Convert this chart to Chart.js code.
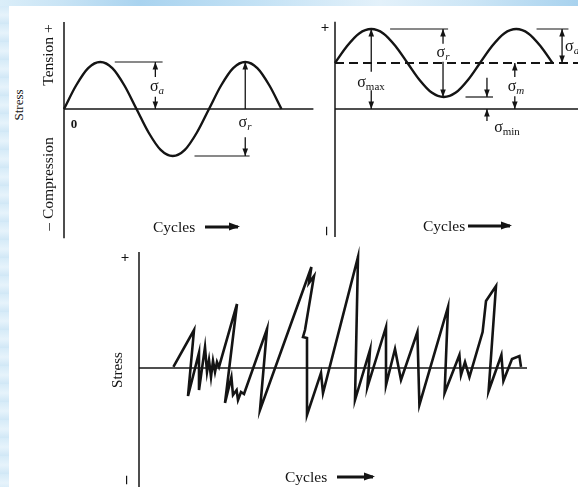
<!DOCTYPE html>
<html>
<head>
<meta charset="utf-8">
<script src="https://cdn.jsdelivr.net/npm/chart.js@4/dist/chart.umd.min.js"></script>
<style>
  html, body { margin: 0; padding: 0; }
  body {
    width: 578px; height: 487px; position: relative; overflow: hidden;
    background: linear-gradient(90deg, #dbeef9 0px, #c9e4f5 60px, #a9d3ef 140px, #c4e2f5 260px, #e3f1fa 380px, #cde6f6 470px, #a8d2ee 578px);
    font-family: "Liberation Serif", "DejaVu Serif", serif; color: #141414;
  }
  #sheet { position: absolute; left: 9px; top: 6px; right: 0; bottom: 0; background: #fff; }
  #edge { position: absolute; left: 0; top: 6px; width: 9px; bottom: 0;
    background: repeating-linear-gradient(180deg, #d6ebf8 0px, #e6f3fb 9px, #d0e7f6 18px); }
  canvas { position: absolute; }
  .t { position: absolute; white-space: nowrap; line-height: 1; transform: translate(-50%, -50%); }
  .l { position: absolute; white-space: nowrap; line-height: 1; transform: translateY(-50%); }
  .r { position: absolute; white-space: nowrap; line-height: 1; transform: translate(-50%, -50%) rotate(-90deg); }
  .sig { font-size: 16px; }
  .sig sub { font-size: 11px; vertical-align: baseline; position: relative; top: 3px; }
  .sig sub.i { font-style: italic; }
  .cyc { font-size: 15.5px; }
  .mark { font-size: 15px; font-weight: bold; }
  .dash { font-size: 17px; font-weight: bold; }
  .arrow { position: absolute; height: 3px; background: #141414; transform: translateY(-50%); }
  .arrow::after { content: ""; position: absolute; right: -2px; top: -3px; border-left: 11px solid #141414;
    border-top: 4.5px solid transparent; border-bottom: 4.5px solid transparent; }
</style>
</head>
<body>
<div id="edge"></div>
<div id="sheet"></div>
<canvas id="fully"></canvas>
<canvas id="fluct"></canvas>
<canvas id="random"></canvas>

<!-- panel 1 labels -->
<div class="r" style="left:18px;top:105px;font-size:13px;">Stress</div>
<div class="r" style="left:48px;top:55px;font-size:15.5px;">Tension +</div>
<div class="r" style="left:48px;top:184px;font-size:15.5px;">– Compression</div>
<div class="t" style="left:74px;top:123px;font-size:13px;font-weight:bold;">0</div>
<div class="t sig" style="left:157px;top:86px;">σ<sub class="i">a</sub></div>
<div class="t sig" style="left:245px;top:122px;">σ<sub class="i">r</sub></div>
<div class="l cyc" style="left:153px;top:227px;">Cycles</div>
<div class="arrow" style="left:205px;top:227px;width:33px;"></div>

<!-- panel 2 labels -->
<div class="t mark" style="left:325px;top:27px;">+</div>
<div class="r dash" style="left:325px;top:231px;">–</div>
<div class="t sig" style="left:371px;top:82px;">σ<sub>max</sub></div>
<div class="t sig" style="left:443px;top:52px;">σ<sub class="i">r</sub></div>
<div class="t sig" style="left:516px;top:86px;">σ<sub class="i">m</sub></div>
<div class="t sig" style="left:507px;top:127px;">σ<sub>min</sub></div>
<div class="l sig" style="left:565px;top:46px;">σ<sub class="i">a</sub></div>
<div class="l cyc" style="left:423px;top:226px;">Cycles</div>
<div class="arrow" style="left:468px;top:226px;width:42px;"></div>

<!-- panel 3 labels -->
<div class="t mark" style="left:125px;top:257px;">+</div>
<div class="r dash" style="left:125px;top:480px;">–</div>
<div class="r" style="left:117px;top:370px;font-size:15px;">Stress</div>
<div class="l cyc" style="left:285px;top:477px;">Cycles</div>
<div class="arrow" style="left:337px;top:477px;width:36px;"></div>

<script>
// ---- fully reversed cycle: stress (amplitude units) every 1/12 cycle ----
const fullyCycles = [0, 0.0833, 0.1667, 0.25, 0.3333, 0.4167, 0.5, 0.5833, 0.6667, 0.75, 0.8333, 0.9167, 1,
                     1.0833, 1.1667, 1.25, 1.3333, 1.4167, 1.5];
const fullyStress = [0, 0.5, 0.87, 1, 0.87, 0.5, 0, -0.5, -0.87, -1, -0.87, -0.5, 0,
                     0.5, 0.87, 1, 0.87, 0.5, 0];
const fullyAmplitude = 1;

// ---- fluctuating cycle about a tensile mean ----
const fluctCycles = [0, 0.0833, 0.1667, 0.25, 0.3333, 0.4167, 0.5, 0.5833, 0.6667, 0.75, 0.8333, 0.9167, 1,
                     1.0833, 1.1667, 1.25, 1.3333, 1.4167, 1.5];
const fluctStress = [1.15, 1.575, 1.89, 2.0, 1.89, 1.575, 1.15, 0.725, 0.41, 0.3, 0.41, 0.725, 1.15,
                     1.575, 1.89, 2.0, 1.89, 1.575, 1.15];
const sigmaMax = 2.0;
const sigmaMin = 0.3;
const sigmaMean = 1.15;

// ---- random (irregular) loading history ----
const randomCycles = [8.6, 13.75, 12.25, 15, 15, 16.5, 17, 17.5, 18, 18.5, 19, 19.5, 20, 24.5, 21.5, 23.1,
  23.5, 24.4, 24.75, 25.5, 26.25, 32, 30.25, 43.1, 42.5, 43.75, 41.5, 41, 42, 42, 45.5, 46, 54.75, 54,
  57.75, 57.1, 61.75, 61.75, 64, 65.5, 69.6, 70.1, 77.25, 76.4, 80.1, 80.5, 81.5, 82.6, 85.9, 86.75,
  89.25, 87.4, 90.6, 91.1, 93.25, 95.1, 95.5];
const randomStress = [1, 34.5, -25.5, 14, -20, 19, -3.6, 7.3, -8.2, 6.4, -3.6, 5.5, 1, 58.2, -31.8, -8.2,
  -24.5, -20, -29.1, -21.8, -23.6, 35.5, -38.2, 91.8, 77.3, 83.6, 34.5, 28.2, 27.3, -42.7, -4.5, -22.7,
  101, -29.1, 16.4, -17.3, 37.3, -15.5, 17.3, -10.9, 32.7, -33.6, 55.5, -22.7, 11.8, -6.4, 5.5, -8.2,
  32.7, 60.9, 74.5, -20.9, 11.8, -11.8, 8.2, 10.9, 1];

const INK = '#141414';
const pts = (xs, ys) => xs.map((x, i) => ({ x, y: ys[i] }));
const seg = (x0, y0, x1, y1) => [{ x: x0, y: y0 }, { x: x1, y: y1 }];
const line = (data, extra) => Object.assign({
  data, showLine: true, borderColor: INK, borderWidth: 1.5, pointRadius: 0,
  fill: false, clip: false, tension: 0, borderCapStyle: 'butt', borderJoinStyle: 'miter'
}, extra || {});
// dimension arrow: tips listed in `heads` ('start' / 'end')
const dim = (data, heads) => line(data, { borderWidth: 1.3, heads });

const arrowHeads = {
  id: 'arrowHeads',
  afterDatasetsDraw(chart) {
    const ctx = chart.ctx;
    chart.data.datasets.forEach((ds, i) => {
      if (!ds.heads) return;
      const el = chart.getDatasetMeta(i).data;
      ds.heads.forEach(end => {
        const a = end === 'start' ? el[0] : el[el.length - 1];
        const b = end === 'start' ? el[1] : el[el.length - 2];
        const ang = Math.atan2(a.y - b.y, a.x - b.x);
        const L = 7.5, W = 2.8;
        const bx = a.x - L * Math.cos(ang), by = a.y - L * Math.sin(ang);
        ctx.save();
        ctx.fillStyle = INK;
        ctx.beginPath();
        ctx.moveTo(a.x, a.y);
        ctx.lineTo(bx + W * Math.sin(ang), by - W * Math.cos(ang));
        ctx.lineTo(bx - W * Math.sin(ang), by + W * Math.cos(ang));
        ctx.closePath();
        ctx.fill();
        ctx.restore();
      });
    });
  }
};

// place a canvas and give it linear scales: origin = page pixel of (0,0), unit = pixels per unit
function panel(id, box, origin, unit, datasets) {
  const c = document.getElementById(id);
  c.width = box.w; c.height = box.h;
  c.style.left = box.x + 'px'; c.style.top = box.y + 'px';
  const xMin = (box.x - origin[0]) / unit[0];
  const xMax = (box.x + box.w - origin[0]) / unit[0];
  const yMax = (origin[1] - box.y) / unit[1];
  const yMin = (origin[1] - box.y - box.h) / unit[1];
  return new Chart(c, {
    type: 'scatter',
    data: { datasets },
    options: {
      responsive: false, animation: false, devicePixelRatio: 1, events: [],
      layout: { padding: 0 },
      plugins: { legend: { display: false }, tooltip: { enabled: false }, title: { display: false } },
      scales: {
        x: { type: 'linear', display: false, min: xMin, max: xMax },
        y: { type: 'linear', display: false, min: yMin, max: yMax }
      }
    },
    plugins: [arrowHeads]
  });
}

// ---- panel 1: fully reversed ----
panel('fully', { x: 40, y: 10, w: 290, h: 240 }, [64, 109], [145, 47], [
  line(seg(0, 1.85, 0, -2.75)),                         // stress axis
  line(seg(0, 0, 1.72, 0)),                             // zero stress
  line(pts(fullyCycles, fullyStress), { borderWidth: 2.4, cubicInterpolationMode: 'monotone' }),
  line(seg(0.35, fullyAmplitude, 0.68, fullyAmplitude), { borderWidth: 1.2 }),
  dim(seg(0.63, fullyAmplitude, 0.63, 0.68), ['start']),
  dim(seg(0.63, 0.26, 0.63, 0), ['end']),
  dim(seg(1.25, fullyAmplitude, 1.25, 0), ['start']),
  dim(seg(1.25, -0.6, 1.25, -fullyAmplitude), ['end']),
  line(seg(0.9, -fullyAmplitude, 1.28, -fullyAmplitude), { borderWidth: 1.2 })
]);

// ---- panel 2: fluctuating ----
panel('fluct', { x: 320, y: 10, w: 258, h: 240 }, [335, 109], [145, 40], [
  line(seg(0, 2.18, 0, -3.2)),
  line(seg(0, 0, 1.7, 0)),
  line(seg(0, sigmaMean, 1.7, sigmaMean), { borderWidth: 2.2, borderDash: [9, 5] }),
  line(pts(fluctCycles, fluctStress), { borderWidth: 2.4, cubicInterpolationMode: 'monotone' }),
  dim(seg(0.25, sigmaMax, 0.25, 0.93), ['start']),
  dim(seg(0.25, 0.47, 0.25, 0), ['end']),
  line(seg(0.38, sigmaMax, 0.78, sigmaMax), { borderWidth: 1.2 }),
  dim(seg(0.745, sigmaMax, 0.745, 1.63), ['start']),
  dim(seg(0.745, 1.18, 0.745, sigmaMin), ['end']),
  line(seg(0.9, sigmaMin, 1.09, sigmaMin), { borderWidth: 1.2 }),
  dim(seg(1.048, 0.78, 1.048, sigmaMin), ['end']),
  dim(seg(1.048, -0.3, 1.048, 0), ['end']),
  dim(seg(1.24, 0.8, 1.24, sigmaMean), ['end']),
  dim(seg(1.24, 0.32, 1.24, 0), ['end']),
  line(seg(1.39, sigmaMax, 1.61, sigmaMax), { borderWidth: 1.2 }),
  dim(seg(1.566, sigmaMax, 1.566, sigmaMean), ['start', 'end'])
]);

// ---- panel 3: random loading ----
panel('random', { x: 120, y: 245, w: 430, h: 242 }, [139, 368], [4, 1.1], [
  line(seg(0, 105.5, 0, -110)),
  line(seg(0, 0, 97, 0)),
  line(pts(randomCycles, randomStress), { borderWidth: 2.6 })
]);
</script>
</body>
</html>
